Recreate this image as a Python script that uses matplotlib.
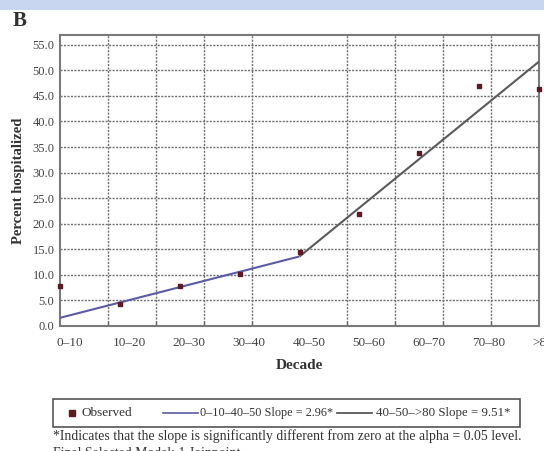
import numpy as np
import matplotlib
matplotlib.use("Agg")
import matplotlib.pyplot as plt
import matplotlib.transforms as mtransforms
from matplotlib.lines import Line2D
from matplotlib.patches import Rectangle

plt.rcParams["font.family"] = ["Liberation Serif", "DejaVu Serif"]

# Observed hospitalization percentage by age decade
decades = ["0–10", "10–20", "20–30", "30–40", "40–50", "50–60", "60–70", "70–80", ">80"]
observed = [7.8, 4.3, 7.9, 10.2, 14.5, 21.9, 33.8, 47.0, 46.4]

# Joinpoint model: two fitted segments meeting at 40–50
seg1_idx = [0, 4]
seg1_fit = [1.6, 13.6]
seg2_idx = [4, 8]
seg2_fit = [13.6, 51.7]

seg1_label = "0–10–40–50 Slope = 2.96*"
seg2_label = "40–50–>80 Slope = 9.51*"
yticks = np.arange(0, 56, 5)

W, H = 544, 451
fig = plt.figure(figsize=(W / 100, H / 100), dpi=100)
fig.patch.set_facecolor("white")


def fpx(x, y):
    return x / W, 1 - y / H


# header strip
fig.patches.append(Rectangle((0, 1 - 10 / H), 1, 10 / H, transform=fig.transFigure,
                             facecolor="#c8d6ef", edgecolor="none", zorder=0))
fig.text(*fpx(20, 21), "B", fontsize=15, fontweight="bold", color="#333333",
         ha="center", va="center")

ax = fig.add_axes([60 / W, 1 - 326 / H, (539 - 60) / W, (326 - 35) / H])
x = np.arange(len(decades))

# grid on minor x ticks and major y ticks
ax.set_xticks(np.arange(0.8, 8, 0.8), minor=True)
ax.set_xticks(x)
ax.set_xticklabels(decades, fontsize=9.5, color="#444444")
ax.set_yticks(yticks)
ax.set_yticklabels([f"{v:.1f}" for v in yticks], fontsize=9, color="#444444")
ax.set_xlim(0, 8)
ax.set_ylim(0, 56.9)
ax.tick_params(axis="x", which="major", length=0, pad=8)
ax.tick_params(axis="x", which="minor", direction="in", length=3, width=1, color="#666666")
ax.tick_params(axis="y", length=0, pad=4)

# category labels sit a little right of their points
labels = ax.get_xticklabels()
for i, lbl in enumerate(labels):
    dx = 4 if i == len(labels) - 1 else 9.5
    lbl.set_transform(lbl.get_transform()
                      + mtransforms.ScaledTranslation(dx / 100, 0, fig.dpi_scale_trans))

grid_kw = dict(color="#707070", linewidth=1.0, linestyle=(0, (1.5, 1)))
ax.grid(True, axis="x", which="minor", **grid_kw)
ax.grid(True, axis="y", which="major", **grid_kw)
ax.set_axisbelow(True)

for s in ax.spines.values():
    s.set_color("#7a7a7a")
    s.set_linewidth(1.5)

ax.plot(seg1_idx, seg1_fit, color="#5b5ba6", linewidth=1.5, solid_capstyle="butt", zorder=3)
ax.plot(seg2_idx, seg2_fit, color="#5a5a5a", linewidth=1.5, solid_capstyle="butt", zorder=3)
ax.plot(x, observed, linestyle="none", marker="s", markersize=2.4,
        color="#5c1a22", clip_on=False, zorder=4)

ax.set_xlabel("Decade", fontsize=11, fontweight="bold", color="#333333", labelpad=7)
ax.set_ylabel("Percent hospitalized", fontsize=10.5, fontweight="bold", color="#333333",
              labelpad=5)

# legend box
fig.patches.append(Rectangle(fpx(53, 427), (520 - 53) / W, (427 - 399) / H,
                             transform=fig.transFigure, facecolor="white",
                             edgecolor="#555555", linewidth=1.2))
ly = 413
fig.add_artist(Line2D([72 / W], [1 - ly / H], marker="s", markersize=4.5,
                      color="#5c1a22", linestyle="none", transform=fig.transFigure))
fig.text(*fpx(82, ly), "Observed", fontsize=9.5, color="#333333", ha="left", va="center")
fig.add_artist(Line2D([163 / W, 198 / W], [1 - ly / H] * 2, color="#5b5ba6",
                      linewidth=1.2, transform=fig.transFigure))
fig.text(*fpx(200, ly), seg1_label, fontsize=8.8, color="#333333", ha="left", va="center")
fig.add_artist(Line2D([337 / W, 372 / W], [1 - ly / H] * 2, color="#4a4a4a",
                      linewidth=1.2, transform=fig.transFigure))
fig.text(*fpx(376, ly), seg2_label, fontsize=9.3, color="#333333", ha="left", va="center")

fig.text(*fpx(53, 436),
         "*Indicates that the slope is significantly different from zero at the alpha = 0.05 level.",
         fontsize=9.9, color="#333333", ha="left", va="center")
fig.text(*fpx(53, 453), "Final Selected Model: 1 Joinpoint.",
         fontsize=9.9, color="#333333", ha="left", va="center")

fig.savefig("out.png", dpi=100)
